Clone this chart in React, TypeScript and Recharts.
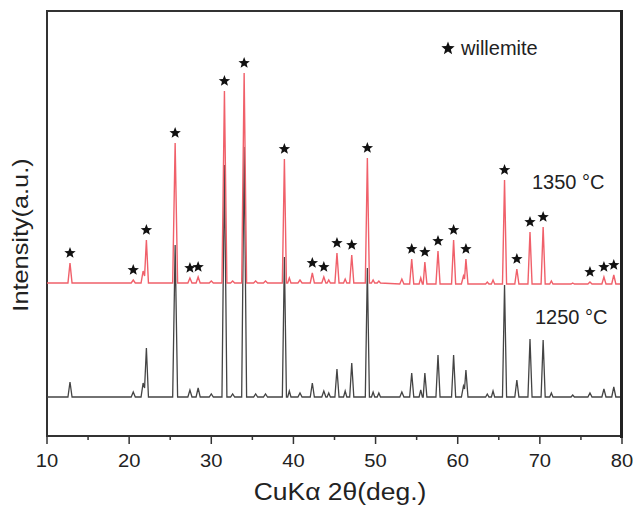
import { ComposedChart, Line, Scatter, XAxis, YAxis, ReferenceArea } from "recharts";

// 2θ positions (deg.), one row per peak: base, top, base
const twoTheta = [
  10,
  12.55, 12.8, 13.05,
  20.25, 20.5, 20.75,
  21.45, 21.7, 21.88, 22.1, 22.35,
  25.3, 25.6, 25.9,
  27.15, 27.4, 27.65,
  28.15, 28.4, 28.65,
  29.75, 30.0, 30.25,
  31.3, 31.6, 31.9,
  32.35, 32.6, 32.85,
  33.7, 34.0, 34.3,
  35.15, 35.4, 35.65,
  36.35, 36.6, 36.85,
  38.65, 38.9, 39.15,
  39.3, 39.5, 39.7,
  40.55, 40.8, 41.05,
  42.05, 42.3, 42.55,
  43.45, 43.7, 43.95,
  44.1, 44.3, 44.5,
  45.05, 45.3, 45.55,
  46.1, 46.3, 46.5,
  46.85, 47.1, 47.35,
  48.75, 49.0, 49.25,
  49.5, 49.7, 49.9,
  50.2, 50.4, 50.6,
  52.95, 53.2, 53.45,
  54.15, 54.4, 54.65,
  55.3, 55.5, 55.7,
  55.8, 56.0, 56.25,
  57.35, 57.6, 57.85,
  59.25, 59.5, 59.75,
  60.45, 60.7, 60.83, 61.0, 61.25,
  63.4, 63.6, 63.8,
  64.1, 64.3, 64.5,
  65.45, 65.7, 65.95,
  66.95, 67.2, 67.45,
  68.55, 68.8, 69.05,
  70.15, 70.4, 70.65,
  71.2, 71.4, 71.6,
  73.8, 74.0, 74.2,
  75.85, 76.1, 76.35,
  77.55, 77.8, 78.05,
  78.75, 79.0, 79.25,
  80,
];

const int1250 = [
  41,
  41, 56, 41,
  41, 46, 41,
  41, 55, 50, 90, 41,
  41, 193, 41,
  41, 48, 41,
  41, 50, 41,
  41, 44, 41,
  41, 273, 41,
  41, 44, 41,
  41, 291, 41,
  41, 44, 41,
  41, 44, 41,
  41, 181, 41,
  41, 47, 41,
  41, 45, 41,
  41, 55, 41,
  41, 47, 41,
  41, 45, 41,
  41, 69, 41,
  41, 47, 41,
  41, 75, 41,
  41, 170, 41,
  41, 46, 41,
  41, 45, 41,
  41, 46, 41,
  41, 65, 41,
  41, 48, 41,
  41, 65, 41,
  41, 83, 41,
  41, 83, 41,
  41, 52, 49, 68, 41,
  41, 44, 41,
  41, 47, 41,
  41, 153, 41,
  41, 58, 41,
  41, 99, 41,
  41, 98, 41,
  41, 45, 41,
  41, 43, 41,
  41, 45, 41,
  41, 49, 41,
  41, 51, 41,
  41,
];

const int1350 = [
  155,
  155, 175, 155,
  155, 158, 155,
  155, 167, 162, 198, 155,
  155, 295, 155,
  155, 160, 155,
  155, 161, 155,
  155, 157, 155,
  155, 347, 155,
  155, 157, 155,
  155, 365, 155,
  155, 157, 155,
  155, 157, 155,
  155, 279, 155,
  155, 160, 155,
  155, 158, 155,
  155, 165, 155,
  155, 161, 155,
  155, 158, 155,
  155, 185, 155,
  155, 159, 155,
  155, 183, 155,
  155, 280, 155,
  155, 158, 155,
  155, 157, 155,
  154, 159, 154,
  154, 179, 154,
  154, 160, 154,
  154, 176, 154,
  154, 187, 154,
  154, 198, 154,
  154, 162, 159, 179, 154,
  154, 156, 154,
  154, 158, 154,
  154, 258, 154,
  154, 169, 154,
  154, 206, 154,
  154, 211, 154,
  154, 157, 154,
  154, 155, 154,
  154, 156, 154,
  154, 161, 154,
  154, 163, 154,
  154,
];

// peaks marked with a star (willemite)
const willemitePeaks = [
  12.8, 20.5, 22.1, 25.6, 27.4, 28.4, 31.6, 34.0, 38.9, 42.3, 43.7, 45.3, 47.1,
  49.0, 54.4, 56.0, 57.6, 59.5, 61.0, 65.7, 67.2, 68.8, 70.4, 76.1, 77.8, 79.0,
];

const xTicks = [10, 15, 20, 25, 30, 35, 40, 45, 50, 55, 60, 65, 70, 75, 80];

const FONT = "'Liberation Sans', Arial, sans-serif";
const AXIS = "#333";

const series1250 = twoTheta.map((x, i) => ({ x, y: int1250[i] }));
const series1350 = twoTheta.map((x, i) => ({ x, y: int1350[i] }));
const stars = willemitePeaks.map((x) => ({ x, y: int1350[twoTheta.indexOf(x)] }));

function starPoints(cx: number, cy: number, R: number, r: number) {
  const pts: string[] = [];
  for (let i = 0; i < 10; i++) {
    const a = -Math.PI / 2 + (i * Math.PI) / 5;
    const rad = i % 2 ? r : R;
    pts.push(`${cx + rad * Math.cos(a)},${cy + rad * Math.sin(a)}`);
  }
  return pts.join(" ");
}

const StarShape = (props: any) => {
  const { cx, cy } = props;
  return <polygon points={starPoints(cx, cy - 10, 6, 2.6)} fill="#111" />;
};

const XTick = (props: any) => {
  const { x, y, payload } = props;
  const major = payload.value % 10 === 0;
  return (
    <g>
      <line x1={x} x2={x} y1={y} y2={y + (major ? 8 : 4)} stroke={AXIS} strokeWidth={1.5} />
      {major && (
        <text
          transform={`translate(${x}, ${y + 31}) scale(1.12, 1)`}
          textAnchor="middle"
          fontSize={18}
          fill="#222"
          fontFamily={FONT}
        >
          {payload.value}
        </text>
      )}
    </g>
  );
};

const label = (left: number, top: number, size: number): React.CSSProperties => ({
  position: "absolute",
  left,
  top,
  fontSize: size,
  fontFamily: FONT,
  color: "#222",
  whiteSpace: "nowrap",
  lineHeight: 1,
});

export default function App() {
  return (
    <div style={{ position: "absolute", left: 0, top: 0, width: 633, height: 507, background: "#fff" }}>
      <ComposedChart width={633} height={507} margin={{ top: 11, right: 11, bottom: 41, left: 47 }}>
        <XAxis
          type="number"
          dataKey="x"
          domain={[10, 80]}
          ticks={xTicks}
          interval={0}
          height={30}
          tickSize={0}
          tickMargin={0}
          tickLine={false}
          tick={<XTick />}
          axisLine={{ stroke: AXIS, strokeWidth: 1.5 }}
        />
        <YAxis
          type="number"
          domain={[2, 427]}
          width={0}
          tick={false}
          tickLine={false}
          axisLine={{ stroke: AXIS, strokeWidth: 1.5 }}
        />
        {/* plot frame */}
        <ReferenceArea
          x1={10}
          x2={80}
          y1={2}
          y2={427}
          fill="none"
          fillOpacity={0}
          stroke={AXIS}
          strokeWidth={2}
          strokeOpacity={1}
          ifOverflow="visible"
        />
        <Line
          data={series1250}
          dataKey="y"
          stroke="#444"
          strokeWidth={1.3}
          dot={false}
          isAnimationActive={false}
        />
        <Line
          data={series1350}
          dataKey="y"
          stroke="#f0606a"
          strokeWidth={1.4}
          dot={false}
          isAnimationActive={false}
        />
        <Scatter data={stars} dataKey="y" shape={<StarShape />} isAnimationActive={false} />
      </ComposedChart>

      {/* right edge of the frame */}
      <div style={{ position: "absolute", left: 620, top: 10, width: 3, height: 428, background: "#222" }} />

      <div style={{ ...label(440, 38, 20), display: "flex", alignItems: "center" }}>
        <svg width={16} height={16} style={{ marginRight: 5 }}>
          <polygon points={starPoints(8, 8.5, 7, 3)} fill="#111" />
        </svg>
        willemite
      </div>
      <div style={label(532, 172, 20)}>1350 °C</div>
      <div style={label(535, 307, 20)}>1250 °C</div>
      <div style={{ ...label(340, 481, 23), transform: "translateX(-50%) scaleX(1.15)" }}>CuKα 2θ(deg.)</div>
      <div
        style={{
          ...label(21, 235, 22),
          transform: "translate(-50%, -50%) rotate(-90deg) scaleX(1.15)",
        }}
      >
        Intensity(a.u.)
      </div>
    </div>
  );
}
